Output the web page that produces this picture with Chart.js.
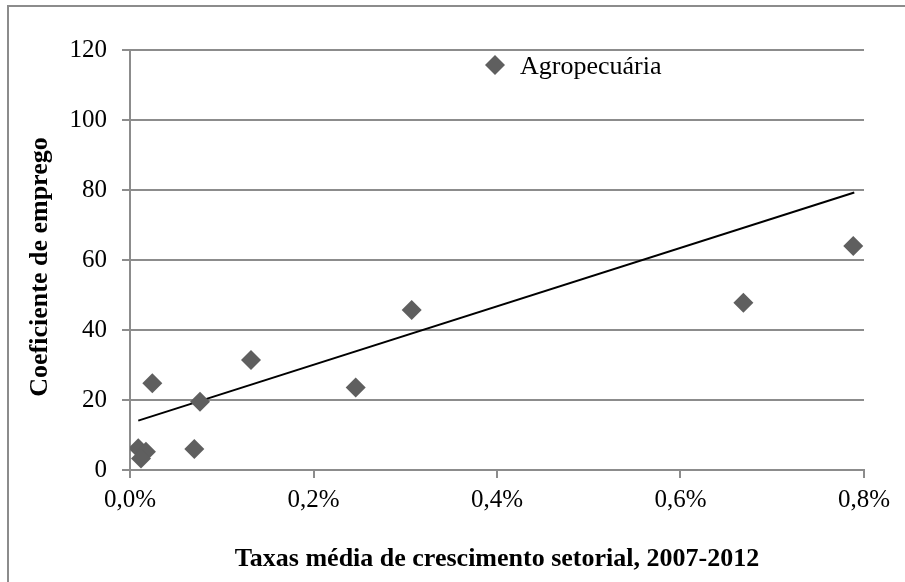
<!DOCTYPE html>
<html>
<head>
<meta charset="utf-8">
<script src="https://cdn.jsdelivr.net/npm/chart.js@4/dist/chart.umd.min.js"></script>
<style>
  html, body { margin: 0; padding: 0; background: #ffffff; }
  #wrap { position: relative; width: 905px; height: 582px; }
  canvas { display: block; }
</style>
</head>
<body>
<div id="wrap"><canvas id="chart" width="905" height="582"></canvas></div>
<script>
// Average sectoral growth rate 2007-2012 (in %) and employment coefficient per sector
const growthRates    = [0.009, 0.0174, 0.012, 0.0243, 0.0763, 0.0701, 0.1319, 0.246, 0.307, 0.6685, 0.7883];
const employmentCoef = [6.2, 5.2, 3.3, 24.8, 19.5, 6.0, 31.4, 23.6, 45.7, 47.8, 64.0];

// Linear trend line end points (x in %, y coefficient)
const trendX = [0.009, 0.7894];
const trendY = [14.1, 79.3];

const xTickValues = [0, 0.2, 0.4, 0.6, 0.8];
const xTickLabels = ['0,0%', '0,2%', '0,4%', '0,6%', '0,8%'];
const yTickValues = [0, 20, 40, 60, 80, 100, 120];
const yTickLabels = ['0', '20', '40', '60', '80', '100', '120'];

const seriesName = 'Agropecuária';
const xTitle = 'Taxas média de crescimento setorial, 2007-2012';
const yTitle = 'Coeficiente de emprego';

const SERIF = "'Liberation Serif', 'Times New Roman', serif";
const GRID = '#8c8c8c';
const MARK = '#5f5f5f';

const points = growthRates.map((x, i) => ({ x: x, y: employmentCoef[i] }));
const trend = trendX.map((x, i) => ({ x: x, y: trendY[i] }));

// Outer frame, in-plot legend and the vertical axis title
const decorations = {
  id: 'decorations',
  afterDraw(chart) {
    const ctx = chart.ctx;
    ctx.save();
    ctx.strokeStyle = GRID;
    ctx.lineWidth = 2;
    ctx.beginPath();
    ctx.moveTo(8, 582);
    ctx.lineTo(8, 6);
    ctx.lineTo(905, 6);
    ctx.stroke();

    const ds = chart.data.datasets[0];
    ctx.fillStyle = ds.backgroundColor;
    ctx.strokeStyle = ds.borderColor;
    Chart.helpers.drawPoint(ctx, { pointStyle: 'rectRot', radius: 10, borderWidth: 0 }, 495, 65);
    ctx.fillStyle = '#000000';
    ctx.font = '26px ' + SERIF;
    ctx.textBaseline = 'middle';
    ctx.textAlign = 'left';
    ctx.fillText(ds.label, 520, 67);

    // rotated y-axis title, centred slightly below the plot middle
    const area = chart.chartArea;
    ctx.translate(40, (area.top + area.bottom) / 2 + 7);
    ctx.rotate(-Math.PI / 2);
    ctx.font = 'bold 26px ' + SERIF;
    ctx.textAlign = 'center';
    ctx.fillText(yTitle, 0, 0);
    ctx.restore();
  }
};

new Chart(document.getElementById('chart'), {
  type: 'scatter',
  data: {
    datasets: [
      {
        label: seriesName,
        data: points,
        pointStyle: 'rectRot',
        pointRadius: 10,
        pointHoverRadius: 10,
        backgroundColor: MARK,
        borderColor: MARK,
        borderWidth: 0
      },
      {
        type: 'line',
        label: 'Linear',
        data: trend,
        borderColor: '#000000',
        borderWidth: 2,
        pointRadius: 0,
        fill: false,
        tension: 0
      }
    ]
  },
  options: {
    responsive: false,
    animation: false,
    devicePixelRatio: 1,
    layout: { padding: { top: 50, right: 41, left: 0, bottom: 0 } },
    plugins: {
      legend: { display: false },
      tooltip: { enabled: false }
    },
    scales: {
      x: {
        type: 'linear',
        min: 0,
        max: 0.8,
        afterFit(scale) { scale.height = 112; },
        afterBuildTicks(scale) { scale.ticks = xTickValues.map(v => ({ value: v })); },
        ticks: {
          color: '#000000',
          font: { family: SERIF, size: 25 },
          padding: 7,
          maxRotation: 0,
          callback: (v, i) => xTickLabels[i]
        },
        grid: {
          drawOnChartArea: false,
          drawTicks: true,
          tickLength: 8,
          color: GRID,
          lineWidth: 2
        },
        border: { display: true, color: GRID, width: 2 },
        title: {
          display: true,
          text: xTitle,
          color: '#000000',
          font: { family: SERIF, size: 26, weight: 'bold' },
          padding: { top: 0, bottom: 7 }
        }
      },
      y: {
        type: 'linear',
        min: 0,
        max: 120,
        afterFit(scale) { scale.width = 130; },
        afterBuildTicks(scale) { scale.ticks = yTickValues.map(v => ({ value: v })); },
        ticks: {
          color: '#000000',
          font: { family: SERIF, size: 25 },
          padding: 15,
          callback: (v, i) => yTickLabels[i]
        },
        grid: {
          drawOnChartArea: true,
          drawTicks: true,
          tickLength: 8,
          color: GRID,
          lineWidth: 2
        },
        border: { display: true, color: GRID, width: 2 }
      }
    }
  },
  plugins: [decorations]
});
</script>
</body>
</html>
